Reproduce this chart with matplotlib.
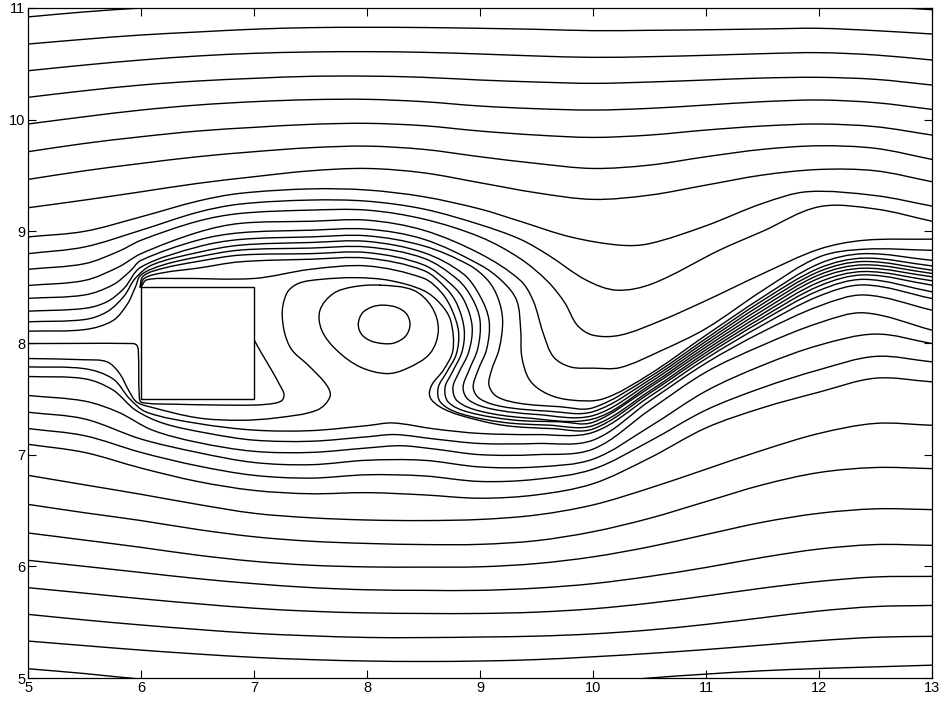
import numpy as np
import matplotlib
matplotlib.use("Agg")
import matplotlib.pyplot as plt
from matplotlib.path import Path
from matplotlib.patches import PathPatch, Rectangle

plt.rcParams['font.family'] = ['Liberation Sans', 'DejaVu Sans']

# x stations shared by the simple (single valued) streamlines
x_stations = [5, 5.5, 6, 6.5, 7, 7.5, 8, 8.5, 9, 9.5, 10, 10.5, 11, 11.5, 12, 12.5, 13]

# outer streamlines above the wake (y at each x station)
upper_far = [
    [10.92, 10.965, 11.0, 11.03, 11.05, 11.06, 11.07, 11.07, 11.07, 11.07, 11.07, 11.07, 11.07, 11.06, 11.045, 11.015, 10.985],
    [10.677, 10.72, 10.758, 10.785, 10.81, 10.824, 10.827, 10.825, 10.818, 10.809, 10.797, 10.80, 10.805, 10.812, 10.818, 10.797, 10.767],
    [10.438, 10.489, 10.534, 10.57, 10.594, 10.606, 10.609, 10.603, 10.588, 10.57, 10.558, 10.564, 10.576, 10.591, 10.60, 10.579, 10.534],
    [10.20, 10.259, 10.31, 10.346, 10.37, 10.388, 10.39, 10.379, 10.355, 10.337, 10.325, 10.337, 10.355, 10.373, 10.379, 10.361, 10.31],
    [9.961, 10.026, 10.086, 10.131, 10.161, 10.179, 10.182, 10.161, 10.122, 10.098, 10.086, 10.101, 10.131, 10.161, 10.176, 10.152, 10.092],
    [9.713, 9.787, 9.847, 9.898, 9.931, 9.958, 9.967, 9.946, 9.898, 9.862, 9.841, 9.862, 9.907, 9.943, 9.961, 9.937, 9.862],
    [9.465, 9.542, 9.608, 9.668, 9.713, 9.749, 9.763, 9.734, 9.668, 9.608, 9.563, 9.593, 9.668, 9.734, 9.766, 9.743, 9.644],
    [9.211, 9.28, 9.354, 9.429, 9.489, 9.542, 9.563, 9.524, 9.435, 9.345, 9.286, 9.324, 9.414, 9.504, 9.554, 9.542, 9.444],
]

# outer streamlines below the wake
lower_far = [
    [6.815, 6.73, 6.645, 6.555, 6.475, 6.435, 6.415, 6.41, 6.42, 6.46, 6.55, 6.70, 6.87, 7.04, 7.19, 7.28, 7.263],
    [6.555, 6.48, 6.41, 6.33, 6.265, 6.225, 6.205, 6.195, 6.197, 6.23, 6.31, 6.43, 6.58, 6.73, 6.84, 6.885, 6.875],
    [6.299, 6.235, 6.17, 6.10, 6.045, 6.01, 5.995, 5.993, 5.996, 6.025, 6.085, 6.175, 6.285, 6.395, 6.475, 6.515, 6.508],
    [6.054, 6.00, 5.945, 5.89, 5.845, 5.81, 5.79, 5.785, 5.785, 5.805, 5.845, 5.91, 5.99, 6.08, 6.155, 6.195, 6.188],
    [5.809, 5.76, 5.71, 5.665, 5.625, 5.598, 5.583, 5.578, 5.578, 5.59, 5.62, 5.67, 5.735, 5.805, 5.865, 5.905, 5.91],
    [5.57, 5.52, 5.475, 5.435, 5.40, 5.378, 5.363, 5.362, 5.367, 5.375, 5.395, 5.43, 5.48, 5.54, 5.60, 5.64, 5.65],
    [5.331, 5.29, 5.25, 5.215, 5.185, 5.165, 5.152, 5.148, 5.152, 5.165, 5.19, 5.22, 5.255, 5.295, 5.335, 5.365, 5.373],
    [5.083, 5.04, 4.99, 4.955, 4.93, 4.915, 4.905, 4.90, 4.90, 4.915, 4.955, 5.0, 5.035, 5.065, 5.085, 5.10, 5.115],
]

# lines passing under the body and the near vortex
lower_wake = [
    [7.093, 7.02, 6.88, 6.76, 6.68, 6.65, 6.66, 6.64, 6.61, 6.64, 6.74, 6.97, 7.24, 7.42, 7.56, 7.685, 7.652],
    [7.234, 7.17, 7.02, 6.90, 6.815, 6.79, 6.82, 6.81, 6.76, 6.78, 6.87, 7.12, 7.40, 7.60, 7.76, 7.88, 7.831],
    [7.38, 7.32, 7.14, 7.02, 6.93, 6.91, 6.95, 6.95, 6.89, 6.89, 6.96, 7.25, 7.57, 7.80, 7.98, 8.08, 7.995],
]

l21_x = [5, 5.5, 5.8, 6.1, 6.5, 7, 7.5, 8, 8.3, 8.6, 9, 9.5, 10, 10.5, 11, 11.5, 12, 12.4, 13]
l21_y = [7.53, 7.48, 7.38, 7.22, 7.11, 7.03, 7.02, 7.06, 7.08, 7.05, 7.0, 7.0, 7.05, 7.40, 7.74, 7.98, 8.18, 8.27, 8.115]
l20_x = [5, 5.5, 5.75, 5.95, 6.2, 6.6, 7, 7.5, 8, 8.25, 8.6, 9, 9.5, 10, 10.5, 11, 11.5, 12, 12.4, 13]
l20_y = [7.70, 7.68, 7.58, 7.40, 7.28, 7.19, 7.13, 7.12, 7.16, 7.18, 7.14, 7.10, 7.10, 7.13, 7.48, 7.82, 8.10, 8.33, 8.43, 8.294]
l19_x = [5, 5.5, 5.75, 5.9, 6.05, 6.5, 7, 7.5, 8, 8.23, 8.6, 9, 9.5, 10, 10.5, 11, 11.5, 12, 12.4, 13]
l19_y = [7.786, 7.77, 7.68, 7.50, 7.38, 7.28, 7.22, 7.215, 7.26, 7.284, 7.23, 7.19, 7.18, 7.20, 7.52, 7.86, 8.16, 8.42, 8.52, 8.398]

# S-shaped line: under the body, up round the big eddy, down into the band
l18_x = [5, 5.5, 5.7, 5.81, 5.89, 5.96, 6.08, 6.5, 6.876, 7.2, 7.555, 7.672, 7.643, 7.495, 7.318, 7.25,
         7.289, 7.392, 7.584, 7.9, 8.2, 8.5, 8.65, 8.74, 8.76, 8.675, 8.572, 8.557, 8.646, 8.823, 9.206,
         9.649, 10, 10.5, 11, 11.5, 12, 12.4, 13]
l18_y = [7.861, 7.85, 7.831, 7.727, 7.577, 7.473, 7.428, 7.33, 7.308, 7.33, 7.398, 7.517, 7.622, 7.786, 7.965, 8.234,
         8.443, 8.533, 8.569, 8.585, 8.56, 8.47, 8.35, 8.2, 7.935, 7.756, 7.622, 7.517, 7.428, 7.353, 7.263,
         7.233, 7.23, 7.55, 7.89, 8.20, 8.47, 8.57, 8.458]

# dividing streamline: stagnation on the front face, along the base, bubble behind
l17_x = [5, 5.93, 5.962, 5.976, 5.985, 6.006, 6.3, 6.876, 7.1, 7.24, 7.265, 7.23, 7.156, 7.06, 7.0]
l17_y = [7.995, 7.995, 7.98, 7.936, 7.517, 7.468, 7.452, 7.443, 7.45, 7.48, 7.54, 7.62, 7.756, 7.92, 8.03]

# lines over the body, over the eddy and down into the band (inner to outer)
u1_x = [6.0, 6.05, 6.3, 7.0, 7.5, 8.0, 8.5, 8.66, 8.75, 8.81, 8.79, 8.70, 8.63, 8.65, 8.82, 9.2, 9.6,
        10, 10.5, 11, 11.5, 12, 12.4, 13]
u1_y = [8.50, 8.565, 8.578, 8.578, 8.66, 8.69, 8.58, 8.45, 8.30, 8.10, 7.90, 7.73, 7.60, 7.47, 7.37, 7.29, 7.265,
        7.26, 7.57, 7.915, 8.23, 8.51, 8.61, 8.518]
u2_x = [5.995, 6.03, 6.2, 6.5, 6.876, 7.5, 8.0, 8.5, 8.7, 8.8, 8.86, 8.84, 8.75, 8.69, 8.72, 8.9, 9.3, 9.7,
        10, 10.5, 11, 11.5, 12, 12.4, 13]
u2_y = [8.50, 8.58, 8.63, 8.67, 8.727, 8.75, 8.76, 8.65, 8.49, 8.34, 8.12, 7.92, 7.73, 7.60, 7.47, 7.38, 7.31, 7.295,
        7.29, 7.60, 7.94, 8.26, 8.545, 8.64, 8.557]
u3_x = [5.99, 6.02, 6.2, 6.5, 6.876, 7.5, 8.0, 8.5, 8.75, 8.86, 8.93, 8.90, 8.81, 8.76, 8.80, 9.0, 9.4,
        10, 10.5, 11, 11.5, 12, 12.4, 13]
u3_y = [8.50, 8.60, 8.67, 8.73, 8.787, 8.80, 8.81, 8.70, 8.52, 8.38, 8.15, 7.92, 7.73, 7.60, 7.48, 7.39, 7.33,
        7.32, 7.62, 7.965, 8.29, 8.58, 8.67, 8.593]
u4_x = [5, 5.5, 5.75, 5.88, 5.95, 6.0, 6.2, 6.5, 6.876, 7.5, 8.0, 8.5, 8.8, 8.93, 9.0, 8.98, 8.90, 8.85, 8.9,
        9.1, 9.5, 10, 10.5, 11, 11.5, 12, 12.4, 13]
u4_y = [8.106, 8.12, 8.20, 8.35, 8.50, 8.61, 8.70, 8.77, 8.832, 8.85, 8.86, 8.76, 8.57, 8.40, 8.2, 7.95, 7.75, 7.60, 7.49,
        7.41, 7.36, 7.35, 7.645, 7.99, 8.32, 8.61, 8.70, 8.623]
u5_x = [5, 5.5, 5.7, 5.85, 5.95, 6.1, 6.5, 6.876, 7.5, 8.0, 8.5, 8.85, 9.0, 9.08, 9.06, 8.98, 8.94, 9.0, 9.2,
        9.6, 10, 10.5, 11, 11.5, 12, 12.4, 13]
u5_y = [8.19, 8.21, 8.28, 8.42, 8.58, 8.70, 8.81, 8.876, 8.90, 8.91, 8.81, 8.62, 8.42, 8.2, 7.95, 7.75, 7.60, 7.50, 7.43,
        7.39, 7.385, 7.67, 8.015, 8.35, 8.64, 8.73, 8.652]
u6_x = [5, 5.5, 5.7, 5.85, 6.0, 6.5, 6.876, 7.5, 8.0, 8.5, 8.9, 9.07, 9.16, 9.2, 9.17, 9.1, 9.08, 9.15, 9.35,
        9.7, 10, 10.5, 11, 11.5, 12, 12.4, 13]
u6_y = [8.285, 8.31, 8.37, 8.49, 8.68, 8.86, 8.927, 8.95, 8.96, 8.87, 8.70, 8.56, 8.40, 8.2, 7.95, 7.75, 7.62, 7.52, 7.46,
        7.43, 7.42, 7.695, 8.04, 8.38, 8.67, 8.76, 8.69]
u7_x = [5, 5.5, 5.75, 5.9, 6.0, 6.5, 6.876, 7.5, 8.0, 8.5, 9.0, 9.2, 9.325, 9.36, 9.37, 9.44, 9.59, 9.80,
        10.09, 10.5, 11, 11.5, 12, 12.4, 13]
u7_y = [8.40, 8.43, 8.52, 8.64, 8.74, 8.92, 8.987, 9.01, 9.02, 8.93, 8.70, 8.55, 8.38, 8.115, 7.876, 7.667, 7.547, 7.49,
        7.50, 7.72, 8.07, 8.41, 8.71, 8.80, 8.74]
u8_x = [5, 5.5, 5.8, 6.0, 6.5, 6.876, 7.5, 8.0, 8.5, 9.0, 9.354, 9.47, 9.56, 9.65, 9.80, 10.0, 10.24, 10.6,
        11, 11.5, 12, 12.4, 13]
u8_y = [8.515, 8.56, 8.68, 8.80, 8.99, 9.071, 9.09, 9.10, 9.01, 8.80, 8.563, 8.38, 8.085, 7.876, 7.786, 7.775, 7.78, 7.93,
        8.13, 8.47, 8.77, 8.84, 8.83]
u9_x = [5, 5.5, 5.8, 6.0, 6.5, 6.876, 7.5, 8.0, 8.5, 9.0, 9.354, 9.6, 9.75, 9.86, 10.0, 10.24, 10.6, 11, 11.5,
        12, 12.4, 13]
u9_y = [8.66, 8.71, 8.82, 8.92, 9.09, 9.16, 9.19, 9.19, 9.11, 8.95, 8.757, 8.55, 8.36, 8.16, 8.07, 8.07, 8.20, 8.38, 8.62,
        8.84, 8.92, 8.93]
u10_x = [5, 5.5, 6, 6.5, 6.876, 7.5, 8, 8.5, 9, 9.354, 9.6, 9.94, 10.21, 10.53, 11.12, 11.5, 12, 12.5, 13]
u10_y = [8.80, 8.86, 9.01, 9.17, 9.244, 9.28, 9.27, 9.20, 9.06, 8.93, 8.79, 8.563, 8.473, 8.533, 8.832, 9.0, 9.22, 9.20, 9.09]
u11_x = [5, 5.5, 6, 6.5, 6.876, 7.5, 8, 8.5, 9, 9.354, 9.8, 10.24, 10.5, 11, 11.5, 11.9, 12.5, 13]
u11_y = [8.95, 9.0, 9.13, 9.27, 9.34, 9.38, 9.37, 9.31, 9.20, 9.09, 8.95, 8.876, 8.89, 9.05, 9.25, 9.355, 9.32, 9.226]

# closed streamlines of the attached eddy
eddy_outer_x = [8.115, 8.41, 8.572, 8.631, 8.557, 8.351, 8.174, 7.938, 7.731, 7.599, 7.584, 7.702, 7.879]
eddy_outer_y = [8.518, 8.473, 8.324, 8.115, 7.906, 7.771, 7.726, 7.786, 7.936, 8.115, 8.294, 8.443, 8.503]
eddy_inner_x = [7.923, 7.96, 8.05, 8.145, 8.26, 8.35, 8.38, 8.34, 8.24, 8.14, 8.03, 7.95]
eddy_inner_y = [8.17, 8.27, 8.325, 8.339, 8.32, 8.26, 8.16, 8.06, 8.0, 7.995, 8.02, 8.08]

# square cylinder
body_x = [6.0, 7.0]
body_y = [7.5, 8.5]


def smooth_path(xs, ys, closed=False):
    # cubic Bezier through the points, tangents scaled by segment length
    p = np.column_stack([xs, ys]).astype(float)
    n = len(p)
    if closed:
        prev = np.roll(p, 1, axis=0)
        nxt = np.roll(p, -1, axis=0)
    else:
        prev = np.vstack([p[:1], p[:-1]])
        nxt = np.vstack([p[1:], p[-1:]])
    t = nxt - prev
    t = t / np.maximum(np.hypot(t[:, 0], t[:, 1]), 1e-9)[:, None]
    verts = [p[0]]
    codes = [Path.MOVETO]
    segs = n if closed else n - 1
    for i in range(segs):
        a, b = p[i], p[(i + 1) % n]
        L = np.hypot(*(b - a))
        verts += [a + t[i] * L / 3, b - t[(i + 1) % n] * L / 3, b]
        codes += [Path.CURVE4] * 3
    return Path(verts, codes)


fig = plt.figure(figsize=(9.53, 7.07), dpi=100)
ax = fig.add_axes([0.0294, 0.041, 0.9486, 0.9477])

line_kw = dict(fill=False, edgecolor='black', linewidth=1.0, capstyle='round', joinstyle='round')

for ys in upper_far + lower_far + lower_wake:
    ax.add_patch(PathPatch(smooth_path(x_stations, ys), **line_kw))

curves = [
    (l21_x, l21_y), (l20_x, l20_y), (l19_x, l19_y), (l18_x, l18_y), (l17_x, l17_y),
    (u1_x, u1_y), (u2_x, u2_y), (u3_x, u3_y), (u4_x, u4_y), (u5_x, u5_y), (u6_x, u6_y),
    (u7_x, u7_y), (u8_x, u8_y), (u9_x, u9_y), (u10_x, u10_y), (u11_x, u11_y),
]
for cx, cy in curves:
    ax.add_patch(PathPatch(smooth_path(cx, cy), **line_kw))

for cx, cy in [(eddy_outer_x, eddy_outer_y), (eddy_inner_x, eddy_inner_y)]:
    ax.add_patch(PathPatch(smooth_path(cx, cy, closed=True), **line_kw))

ax.add_patch(Rectangle((body_x[0], body_y[0]), body_x[1] - body_x[0], body_y[1] - body_y[0],
                       fill=True, facecolor='white', edgecolor='black', linewidth=1.0, zorder=3))

ax.set_xlim(5, 13)
ax.set_ylim(5, 11)
ax.set_xticks(range(5, 14))
ax.set_yticks(range(5, 12))
ax.tick_params(direction='in', top=True, right=True, length=6, width=0.8,
               labelsize=10.5, pad=2)
for s in ax.spines.values():
    s.set_linewidth(0.9)

fig.savefig('out.png', dpi=100, facecolor='white')
